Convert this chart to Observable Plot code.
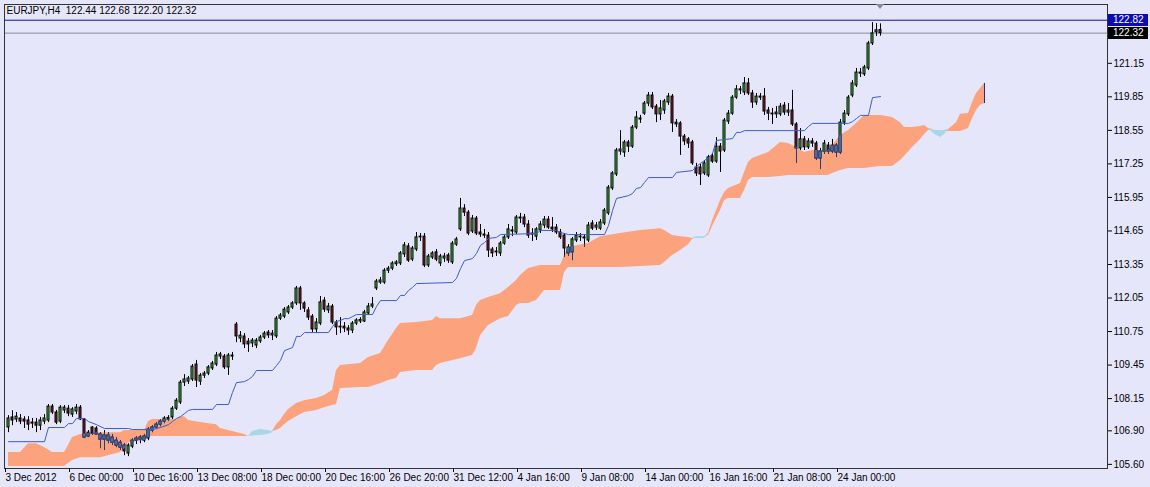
<!DOCTYPE html>
<html><head><meta charset="utf-8">
<script src="https://cdn.jsdelivr.net/npm/d3@7"></script>
<script src="https://cdn.jsdelivr.net/npm/@observablehq/plot@0.6"></script>
<style>
html,body{margin:0;padding:0;background:#E6E6FA;}
#chart svg{display:block;}
</style></head><body><div id="chart"></div>
<script>
// ---- header / levels ----
const headerText = "EURJPY,H4  122.44 122.68 122.20 122.32";
const askLevel = 122.82;
const bidLevel = 122.32;
const priceTicks = [121.15,119.85,118.55,117.25,115.95,114.65,113.35,112.05,110.75,109.45,108.15,106.90,105.60];
const timeTickBars = [-1,15,31,47,63,79,95,111,127,143,159,175,191,207];
const timeTickLabels = ["3 Dec 2012","6 Dec 00:00","10 Dec 16:00","13 Dec 08:00","18 Dec 00:00","20 Dec 16:00","26 Dec 20:00","31 Dec 12:00","4 Jan 16:00","9 Jan 08:00","14 Jan 00:00","16 Jan 16:00","21 Jan 08:00","24 Jan 00:00"];

// ---- H4 candles (bar index = position) ----
const opens = [
107.03,107.42,107.34,107.38,107.34,107.30,107.18,107.22,107.10,107.26,
107.30,107.84,107.61,107.26,107.69,107.76,107.53,107.65,107.80,107.34,
106.68,107.03,106.99,106.76,106.56,106.52,106.64,106.52,106.44,106.33,
106.02,106.29,106.52,106.56,106.52,106.60,106.91,107.03,107.14,107.26,
107.34,107.42,107.76,108.00,108.77,108.81,108.89,109.47,108.81,109.04,
109.12,109.32,109.47,109.78,109.78,109.36,109.78,111.02,110.48,110.56,
110.36,110.29,110.21,110.37,110.52,110.71,110.60,110.56,111.25,111.33,
111.49,111.68,111.84,112.42,111.84,111.57,111.33,110.83,111.06,111.95,
111.57,111.72,111.10,110.94,110.94,110.87,110.79,111.06,111.14,111.14,
111.45,111.72,112.42,112.65,112.65,113.11,113.19,113.36,113.39,113.74,
114.05,113.54,113.93,114.40,114.43,113.31,113.62,113.82,113.39,113.58,
113.70,113.43,114.12,114.71,115.52,115.36,114.63,115.13,114.59,114.51,
114.47,113.93,113.82,113.78,114.16,114.40,114.63,114.59,115.13,115.17,
114.90,114.51,114.43,114.67,114.86,115.09,114.78,114.78,114.59,114.47,
113.78,113.82,114.28,114.40,114.36,114.28,114.94,114.78,114.74,114.94,
115.33,116.30,116.84,117.73,117.69,118.08,117.92,118.66,119.01,119.20,
119.59,119.90,119.47,119.17,119.32,119.63,119.86,118.85,118.82,118.31,
118.20,118.08,117.11,117.11,116.88,116.80,117.54,117.34,117.92,117.77,
118.89,119.20,119.82,120.14,120.02,120.37,119.98,119.63,119.82,119.86,
119.32,119.20,119.17,119.17,119.51,119.24,119.32,118.78,117.85,118.20,
117.89,118.12,118.04,117.46,117.73,117.96,117.73,117.96,117.69,118.85,
119.17,119.90,120.29,120.79,120.72,120.95,121.92,122.35,122.44];
const highs = [
107.49,107.68,107.61,107.53,107.45,107.45,107.38,107.38,107.42,107.53,
107.92,107.92,107.69,107.88,107.88,107.88,107.80,107.92,107.88,107.38,
106.91,107.06,107.06,106.83,106.91,106.83,106.76,106.64,106.52,106.40,
106.40,106.60,106.68,106.72,106.76,107.03,107.10,107.22,107.34,107.45,
107.49,107.84,108.15,108.85,109.08,109.01,109.47,109.63,109.12,109.20,
109.43,109.59,109.94,109.94,109.86,109.90,109.94,111.10,110.75,110.67,
110.48,110.48,110.48,110.60,110.75,110.79,110.79,111.33,111.45,111.68,
111.76,111.91,112.50,112.50,111.91,111.68,111.41,111.25,112.11,112.07,
111.84,111.80,111.18,111.29,111.10,110.98,111.14,111.25,111.29,111.57,
111.84,112.07,112.77,112.85,113.19,113.27,113.46,113.50,113.85,114.20,
114.16,114.05,114.59,114.55,114.55,113.74,113.85,113.93,113.74,113.78,
113.78,114.24,114.40,115.91,115.67,115.44,115.25,115.21,114.90,114.71,
114.59,114.01,114.01,114.24,114.47,114.90,114.82,115.25,115.33,115.29,
115.05,114.74,114.78,115.02,115.21,115.21,115.17,114.90,114.71,114.55,
114.12,114.40,114.59,114.55,114.51,114.98,115.05,114.98,115.09,115.52,
116.41,116.95,117.85,118.54,118.16,118.16,118.74,119.28,119.13,119.67,
120.02,120.02,119.55,119.71,119.75,119.98,119.94,118.97,118.89,118.39,
118.27,118.16,117.27,117.23,117.38,117.58,117.65,118.27,118.04,119.01,
119.32,119.90,120.29,120.25,120.60,120.56,120.10,119.98,119.98,120.17,
119.44,119.40,119.47,119.59,119.63,119.59,120.10,118.85,118.62,118.31,
118.23,118.23,118.12,117.85,118.16,118.08,118.20,118.04,118.97,119.32,
119.90,120.48,120.95,120.95,121.07,122.00,122.73,122.69,122.68];
const lows = [
106.83,107.10,107.22,107.14,106.99,106.91,106.99,106.83,106.91,107.14,
107.22,107.53,107.14,107.18,107.57,107.45,107.42,107.53,107.30,106.60,
106.64,106.72,106.72,106.21,106.14,106.40,106.33,106.25,106.14,105.94,
105.90,106.21,106.37,106.40,106.44,106.52,106.83,106.95,107.06,107.18,
107.26,107.34,107.69,107.92,108.62,108.70,108.81,108.58,108.66,108.93,
109.04,109.24,109.39,109.67,109.28,109.05,109.63,110.32,110.32,110.09,
109.94,110.13,110.09,110.29,110.44,110.48,110.40,110.48,111.18,111.25,
111.41,111.60,111.76,111.57,111.49,111.18,110.71,110.67,110.98,111.49,
111.45,111.02,110.60,110.67,110.71,110.60,110.67,110.98,111.06,111.10,
111.37,111.64,112.34,112.58,112.58,113.00,113.11,113.27,113.31,113.62,
113.43,113.46,113.85,114.24,113.23,113.23,113.54,113.46,113.27,113.43,
113.39,113.35,114.05,114.63,115.21,114.47,114.55,114.47,114.40,114.36,
113.62,113.62,113.66,113.66,114.09,114.32,114.43,114.51,114.94,114.78,
114.36,114.24,114.28,114.55,114.74,114.71,114.59,114.51,114.32,113.62,
113.66,113.50,114.20,114.24,114.01,114.20,114.67,114.67,114.67,114.86,
115.25,116.22,116.76,117.58,117.50,117.69,117.85,118.58,118.82,119.13,
119.47,119.36,118.85,118.93,119.17,119.52,118.47,118.66,117.58,117.96,
117.85,117.19,116.76,116.41,116.80,116.72,117.27,117.27,116.92,117.69,
118.78,119.13,119.75,119.94,119.90,119.90,119.40,119.52,119.71,119.13,
118.93,118.78,119.01,119.09,119.13,119.09,118.70,117.27,117.77,117.77,
117.81,117.89,117.38,117.03,117.62,117.62,117.65,117.50,117.62,118.74,
119.09,119.82,120.21,120.60,120.64,120.87,121.84,122.19,122.20];
const closes = [
107.38,107.30,107.45,107.26,107.26,107.14,107.22,107.10,107.30,107.38,
107.84,107.61,107.22,107.80,107.80,107.57,107.73,107.80,107.34,106.64,
106.83,106.79,106.76,106.56,106.72,106.72,106.44,106.33,106.25,106.10,
106.33,106.52,106.60,106.64,106.68,106.95,107.03,107.14,107.26,107.38,
107.40,107.76,108.07,108.77,108.89,108.93,109.39,108.85,109.04,109.12,
109.36,109.51,109.82,109.86,109.36,109.82,109.82,110.56,110.59,110.25,
110.25,110.40,110.40,110.52,110.67,110.60,110.67,111.25,111.37,111.60,
111.68,111.84,112.42,111.84,111.64,111.29,110.83,111.10,111.88,111.60,
111.72,111.10,110.91,110.91,110.87,110.79,111.06,111.18,111.20,111.49,
111.72,111.80,112.69,112.73,113.11,113.19,113.39,113.43,113.78,114.09,
113.50,113.97,114.40,114.43,113.31,113.66,113.78,113.54,113.66,113.66,
113.50,114.16,114.32,115.52,115.36,114.55,115.13,114.55,114.51,114.47,
113.89,113.78,113.85,114.16,114.40,114.71,114.67,115.17,115.17,114.90,
114.47,114.55,114.71,114.90,115.09,114.78,114.71,114.59,114.40,113.97,
114.01,114.32,114.47,114.43,114.40,114.86,114.74,114.86,114.98,115.44,
116.33,116.88,117.77,117.81,118.08,117.92,118.66,119.05,118.97,119.59,
119.90,119.44,119.17,119.40,119.67,119.86,118.82,118.78,118.31,118.12,
118.04,117.27,116.88,116.84,117.27,117.50,117.34,117.92,117.73,118.93,
119.20,119.82,120.14,120.10,120.37,119.98,119.63,119.86,119.86,119.28,
119.20,119.17,119.24,119.47,119.24,119.32,118.78,117.85,118.20,117.89,
118.12,118.04,117.46,117.73,118.04,117.73,117.96,117.69,118.85,119.20,
119.82,120.37,120.79,120.75,120.99,121.92,122.31,122.43,122.32];

// ---- Ichimoku: Kijun-sen (bar, value) ----
const kijun = [
[0,106.48],[9,106.48],[10,107.03],[14,107.03],[15,107.18],[16,107.18],[17,107.38],[19,107.38],[20,107.26],[22,107.14],
[24,106.99],[30,106.99],[31,106.95],[36,106.95],[38,107.03],[40,107.14],[41,107.26],[42,107.38],[43,107.45],[44,107.57],
[45,107.69],[46,107.73],[51,107.73],[52,107.92],[55,107.92],[56,108.39],[57,108.77],[59,108.81],[60,108.89],[61,109.01],
[62,109.24],[66,109.24],[67,109.43],[68,109.63],[69,110.01],[71,110.13],[72,110.56],[73,110.56],[74,110.71],[80,110.71],
[81,110.94],[82,111.14],[83,111.18],[84,111.25],[85,111.25],[86,111.33],[87,111.41],[91,111.41],[92,111.72],[93,111.95],
[97,111.95],[98,112.15],[99,112.15],[100,112.34],[101,112.46],[102,112.61],[111,112.65],[112,112.81],[113,113.19],[114,113.50],
[116,113.58],[117,113.78],[118,114.09],[119,114.20],[120,114.36],[122,114.40],[123,114.51],[132,114.55],[133,114.67],[137,114.67],
[138,114.59],[139,114.55],[140,114.51],[149,114.51],[150,114.86],[151,115.44],[152,115.91],[155,116.02],[156,116.10],[157,116.30],
[158,116.33],[159,116.53],[160,116.72],[166,116.72],[167,116.92],[171,116.99],[172,117.15],[173,117.27],[174,117.38],[175,117.50],
[176,117.65],[177,118.16],[181,118.23],[182,118.47],[183,118.47],[184,118.54],[199,118.54],[200,118.70],[201,118.82],[210,118.82],
[211,118.89],[212,119.01],[213,119.13],[215,119.13],[216,119.82],[218,119.86]];

// ---- Ichimoku cloud: Senkou span A / B (shifted 26 bars ahead) ----
const cloudBars = [
0,3,5,7,9,11,14,15,16,18,
23,28,29,30,34,35,36,42,43,44,
45,48,52,53,56,59,60,61,63,65,
66,67,68,69,70,72,74,77,79,81,
82,83,88,90,93,95,97,98,102,106,
107,108,113,116,117,118,120,123,125,127,
128,130,132,133,134,138,139,140,145,148,
153,158,163,164,166,168,170,171,172,174,
175,176,178,179,180,183,184,185,186,188,
190,193,195,197,199,201,205,206,208,210,
212,214,218,221,223,224,226,228,229,230,
231,232,233,234,235,237,238,240,241,242,
243,244];
const spanA = [
106.06,106.06,106.40,106.40,106.25,106.06,106.06,106.33,106.64,106.76,
106.83,106.83,106.91,106.91,106.91,107.26,107.34,107.34,107.45,107.45,
107.30,107.22,107.14,106.99,106.87,106.76,106.68,106.70,106.72,106.76,
106.83,107.14,107.30,107.53,107.73,107.96,108.07,108.15,108.27,108.46,
109.24,109.43,109.51,109.74,109.90,110.40,110.87,111.06,111.10,111.18,
111.33,111.25,111.25,111.37,111.76,111.95,112.07,112.22,112.46,112.73,
112.92,113.19,113.27,113.31,113.31,113.31,113.70,114.01,114.16,114.43,
114.55,114.67,114.74,114.67,114.47,114.43,114.40,114.36,114.36,114.36,
114.55,115.05,115.83,116.14,116.30,116.49,116.92,117.30,117.46,117.58,
117.69,118.08,118.04,117.89,117.69,117.77,117.77,117.96,118.35,118.54,
118.82,119.13,119.13,119.05,118.85,118.66,118.66,118.70,118.74,118.62,
118.47,118.35,118.27,118.39,118.58,118.85,119.17,119.20,119.63,119.98,
120.17,120.37];
const spanB = [
105.52,105.52,105.52,105.52,105.52,105.52,105.52,105.63,105.75,105.86,
105.86,106.06,106.21,106.44,106.52,106.64,106.68,106.68,106.68,106.68,
106.68,106.68,106.68,106.68,106.68,106.68,106.68,106.87,106.95,106.91,
106.87,106.91,106.99,107.14,107.26,107.45,107.61,107.69,107.80,107.88,
107.92,108.54,108.58,108.58,108.73,108.85,108.93,109.16,109.24,109.24,
109.43,109.51,109.70,109.82,110.09,110.60,110.98,111.25,111.33,111.76,
111.84,111.84,111.95,112.15,112.34,112.34,113.04,113.23,113.23,113.23,
113.23,113.27,113.31,113.43,113.70,113.89,114.12,114.32,114.43,114.43,
114.47,114.82,115.44,115.83,115.91,115.91,116.22,116.61,116.72,116.72,
116.72,116.76,116.80,116.80,116.80,116.80,116.80,116.88,116.99,117.07,
117.07,117.07,117.15,117.15,117.38,117.54,117.89,118.20,118.39,118.54,
118.58,118.54,118.54,118.54,118.51,118.51,118.51,118.62,119.01,119.32,
119.52,119.59];

// ---- build tables ----
const candles = opens.map((o, i) => ({i, o, h: highs[i], l: lows[i], c: closes[i], up: closes[i] >= o}));
const cloud = cloudBars.map((bar, k) => {
  const a = spanA[k], b = spanB[k];
  return {bar, a, b, hi: Math.max(a, b)};
});
const kij = kijun.map(([bar, v]) => ({bar, v}));
const tickLabel = new Map(timeTickBars.map((b, k) => [b, timeTickLabels[k]]));

const BULL = "#3cc83c", BEAR = "#8b1c30";
const BULL_IN = "#4a9fb8", BEAR_IN = "#9485cc", EDGE_IN = "#1c3f86";
const FONT = "'Liberation Sans', Arial, sans-serif";

const svg = Plot.plot({
  width: 1150, height: 487,
  marginLeft: 4, marginRight: 43, marginTop: 4, marginBottom: 19,
  style: {background: "#E6E6FA", fontFamily: FONT, fontSize: "10px", color: "#000"},
  x: {type: "linear", domain: [-1, 274.75], axis: null},
  y: {type: "linear", domain: [105.44, 123.43], axis: null},
  marks: [
    Plot.area(cloud, {x1: "bar", y1: "b", y2: "hi", fill: "#FCA27D"}),                 // 0 salmon cloud
    Plot.area(cloud, {x1: "bar", y1: "a", y2: "hi", fill: "#A8D8E8"}),                 // 1 blue cloud
    Plot.ruleX(cloud.slice(-1), {x: "bar", y1: "a", y2: "b", stroke: "#1c2f8a"}),      // 2
    Plot.ruleY([askLevel], {stroke: "#10109a"}),                                       // 3
    Plot.ruleY([bidLevel], {stroke: "#8a8a9a"}),                                       // 4
    Plot.ruleX(candles, {x: "i", y1: "l", y2: "h", stroke: "#000"}),                   // 5 wicks
    Plot.rect(candles, {x1: d => d.i - 0.25, x2: d => d.i + 0.25, y1: "o", y2: "c",   // 6 bodies
      fill: d => d.up ? BULL : BEAR, stroke: "#000", strokeWidth: 1}),
    Plot.ruleX(candles, {x: "i", y1: "l", y2: "h", stroke: EDGE_IN}),                  // 7 wicks in cloud
    Plot.rect(candles, {x1: d => d.i - 0.25, x2: d => d.i + 0.25, y1: "o", y2: "c",   // 8 bodies in cloud
      fill: d => d.up ? BULL_IN : BEAR_IN, stroke: EDGE_IN, strokeWidth: 1}),
    Plot.line(kij, {x: "bar", y: "v", stroke: "#3d5ec6", strokeWidth: 1}),
    Plot.frame({stroke: "#333"}),
    Plot.axisY({anchor: "right", ticks: priceTicks, tickFormat: d3.format(".2f"), tickSize: 4, tickPadding: 2, fontSize: 10}),
    Plot.axisX({anchor: "bottom", ticks: timeTickBars, tickFormat: d => tickLabel.get(d), tickSize: 4, tickPadding: 1, textAnchor: "start", dx: 1, fontSize: 10}),
    Plot.text([headerText], {text: d => d, frameAnchor: "top-left", dx: 2, dy: 2, lineAnchor: "top", textAnchor: "start", fontSize: 10, fill: "#000"})
  ]
});
document.getElementById("chart").appendChild(svg);

const root = d3.select(svg);
const ys = svg.scale("y"), xs = svg.scale("x");

// clip the "inside the cloud" candle layers to the salmon cloud shape
const gs = Array.from(svg.children).filter(n => n.tagName.toLowerCase() === "g");
const cloudG = gs[0], inLayers = [gs[7], gs[8]];
const cloudPath = cloudG && cloudG.querySelector("path");
if (cloudPath) {
  const cp = root.insert("defs", ":first-child").append("clipPath").attr("id", "cloudclip")
    .append("path").attr("d", cloudPath.getAttribute("d"));
  if (cloudG.getAttribute("transform")) cp.attr("transform", cloudG.getAttribute("transform"));
  inLayers.forEach(g => g && g.setAttribute("clip-path", "url(#cloudclip)"));
} else {
  inLayers.forEach(g => g && g.remove());
}

// price boxes on the right axis
const right = 1150 - 43;
for (const [v, bg] of [[askLevel, "#0c0cb4"], [bidLevel, "#000000"]]) {
  const y = ys.apply(v);
  root.append("rect").attr("x", right + 1).attr("y", Math.round(y) - 6).attr("width", 40).attr("height", 12).attr("fill", bg);
  root.append("text").attr("x", right + 6).attr("y", y).attr("dy", "0.36em").attr("fill", "#fff")
    .attr("text-anchor", "start").attr("font-size", 10).attr("font-family", FONT).text(v.toFixed(2));
}
// chart-shift marker above the last bar
const xl = xs.apply(candles.length - 1);
root.append("path").attr("d", `M${xl - 4},4L${xl + 4},4L${xl},9Z`).attr("fill", "#8a8a8a");
</script>
</body></html>
